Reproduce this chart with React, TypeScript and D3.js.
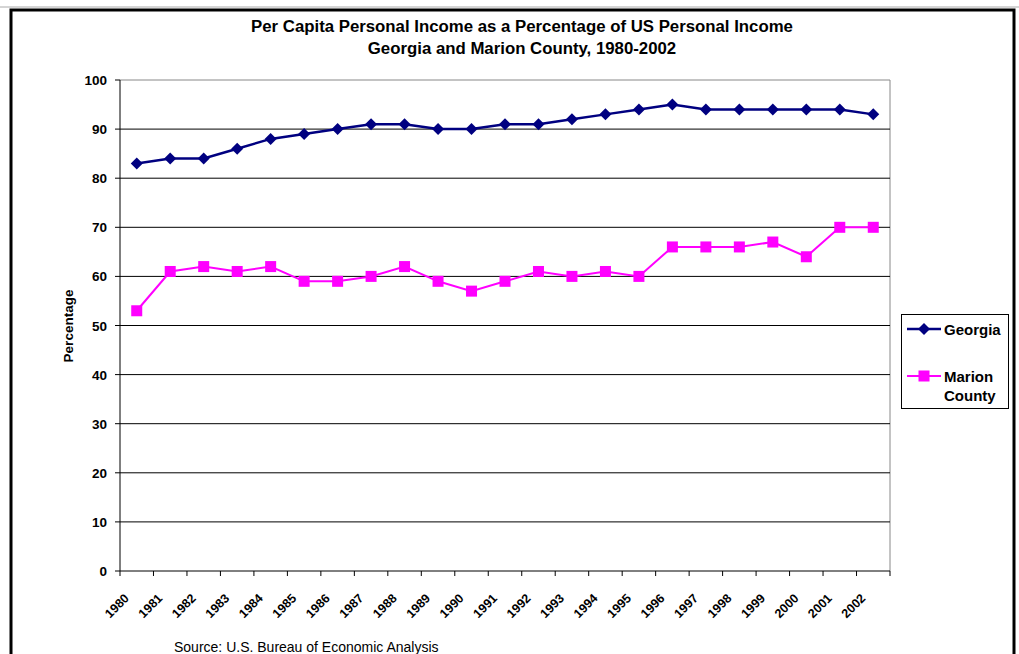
import React from "react";
import * as d3 from "d3";

const years = ["1980","1981","1982","1983","1984","1985","1986","1987","1988","1989","1990","1991","1992","1993","1994","1995","1996","1997","1998","1999","2000","2001","2002"];
const georgia = [83,84,84,86,88,89,90,91,91,90,90,91,91,92,93,94,95,94,94,94,94,94,93];
const marion = [53,61,62,61,62,59,59,60,62,59,57,59,61,60,61,60,66,66,66,67,64,70,70];
const yTicks = [0,10,20,30,40,50,60,70,80,90,100];

const W = 1019, H = 654;
const left = 120, right = 890, top = 80, bottom = 571;
const font = "'Liberation Sans', Arial, sans-serif";

export default function App() {
  const x = d3.scaleBand().domain(years).range([left, right]);
  const y = d3.scaleLinear().domain([0, 100]).range([bottom, top]);
  const cx = (d: string) => (x(d) as number) + x.bandwidth() / 2;
  const line = d3.line<number>().x((_, i) => cx(years[i])).y(v => y(v));
  const diamond = (px: number, py: number, r: number) => `M${px},${py - r}L${px + r},${py}L${px},${py + r}L${px - r},${py}Z`;
  const boundaries = years.map(d => x(d) as number).concat([right]);

  return (
    <svg width={W} height={H} style={{ position: "absolute", left: 0, top: 0, fontFamily: font }}>
      <rect x={0} y={0} width={W} height={H} fill="#fff" />
      {/* outer border */}
      <line x1={0} x2={W} y1={7} y2={7} stroke="#aaa" strokeWidth={1} />
      <rect x={11} y={10} width={1003} height={700} fill="none" stroke="#000" strokeWidth={3} />
      {/* title */}
      <text x={522} y={32} textAnchor="middle" fontSize={16.8} fontWeight="bold">Per Capita Personal Income as a Percentage of US Personal Income</text>
      <text x={522} y={54} textAnchor="middle" fontSize={16.8} fontWeight="bold">Georgia and Marion County, 1980-2002</text>
      {/* plot border */}
      <line x1={left} x2={right} y1={top} y2={top} stroke="#888" />
      <line x1={right} x2={right} y1={top} y2={bottom} stroke="#888" />
      {/* gridlines */}
      {yTicks.filter(t => t > 0 && t < 100).map(t => (
        <line key={t} x1={left} x2={right} y1={y(t)} y2={y(t)} stroke="#000" strokeWidth={1} />
      ))}
      {/* axes */}
      <line x1={left} x2={left} y1={top} y2={bottom} stroke="#000" />
      <line x1={left} x2={right} y1={bottom} y2={bottom} stroke="#000" />
      {yTicks.map(t => (
        <g key={t}>
          <line x1={left - 5} x2={left} y1={y(t)} y2={y(t)} stroke="#000" />
          <text x={107} y={y(t) + 5} textAnchor="end" fontSize={13.5} fontWeight="bold">{t}</text>
        </g>
      ))}
      {boundaries.map((b, i) => (
        <line key={i} x1={b} x2={b} y1={bottom} y2={bottom + 5} stroke="#000" />
      ))}
      {years.map(d => (
        <text key={d} transform={`translate(${cx(d) - 7},${bottom + 28}) rotate(-45)`} textAnchor="end" fontSize={12.5} fontWeight="bold">{d}</text>
      ))}
      <text transform={`translate(73,326) rotate(-90)`} textAnchor="middle" fontSize={13.5} fontWeight="bold">Percentage</text>
      {/* series */}
      <path d={line(georgia) as string} fill="none" stroke="#000080" strokeWidth={2.5} />
      {georgia.map((v, i) => (
        <path key={i} d={diamond(cx(years[i]), y(v), 6)} fill="#000080" />
      ))}
      <path d={line(marion) as string} fill="none" stroke="#FF00FF" strokeWidth={2} />
      {marion.map((v, i) => (
        <rect key={i} x={cx(years[i]) - 5.5} y={y(v) - 5.5} width={11} height={11} fill="#FF00FF" />
      ))}
      {/* legend */}
      <rect x={901.5} y={314.5} width={107} height={94} fill="#fff" stroke="#000" />
      <line x1={907} x2={941} y1={329} y2={329} stroke="#000080" strokeWidth={2.5} />
      <path d={diamond(924, 329, 6)} fill="#000080" />
      <text x={944} y={334.5} fontSize={15} fontWeight="bold">Georgia</text>
      <line x1={907} x2={941} y1={376} y2={376} stroke="#FF00FF" strokeWidth={2} />
      <rect x={918.5} y={370.5} width={11} height={11} fill="#FF00FF" />
      <text x={944} y={381.5} fontSize={15} fontWeight="bold">Marion</text>
      <text x={944} y={400.5} fontSize={15} fontWeight="bold">County</text>
      {/* source */}
      <text x={174} y={652} fontSize={14}>Source: U.S. Bureau of Economic Analysis</text>
    </svg>
  );
}
